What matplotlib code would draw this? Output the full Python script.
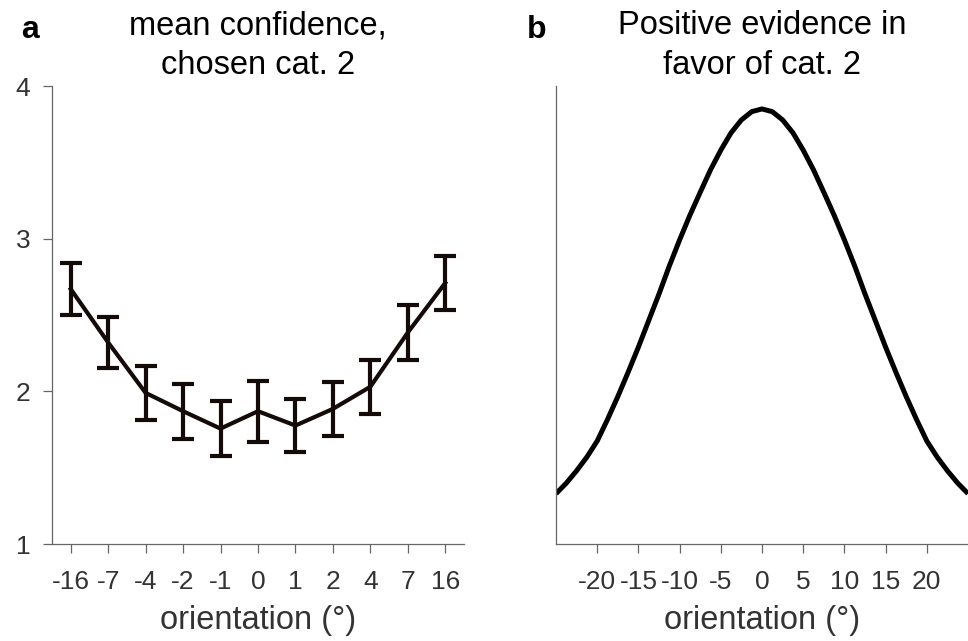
import numpy as np
import matplotlib
matplotlib.use("Agg")
import matplotlib.pyplot as plt

plt.rcParams['font.family'] = ['Liberation Sans', 'DejaVu Sans']

# Panel a: mean confidence when category 2 was chosen
orient_labels = ['-16', '-7', '-4', '-2', '-1', '0', '1', '2', '4', '7', '16']
conf_mean = [2.67, 2.32, 1.99, 1.87, 1.756, 1.87, 1.776, 1.885, 2.03, 2.385, 2.71]
conf_err = [0.17, 0.167, 0.175, 0.18, 0.18, 0.20, 0.172, 0.178, 0.177, 0.18, 0.177]

# Panel b: positive evidence curve
evid_x = [-25, -23.75, -22.5, -21.25, -20, -18.75, -17.5, -16.25, -15, -13.75,
          -12.5, -11.25, -10, -8.75, -7.5, -6.25, -5, -3.75, -2.5, -1.25, 0,
          1.25, 2.5, 3.75, 5, 6.25, 7.5, 8.75, 10, 11.25, 12.5, 13.75, 15,
          16.25, 17.5, 18.75, 20, 21.25, 22.5, 23.75, 25]
evid_y = [0.110, 0.133, 0.160, 0.190, 0.225, 0.272, 0.322, 0.375, 0.430, 0.488,
          0.546, 0.607, 0.664, 0.718, 0.768, 0.817, 0.860, 0.898, 0.926, 0.944, 0.950,
          0.944, 0.926, 0.898, 0.860, 0.817, 0.768, 0.718, 0.664, 0.607, 0.546,
          0.488, 0.430, 0.375, 0.322, 0.272, 0.225, 0.190, 0.160, 0.133, 0.110]
evid_ticks = [-20, -15, -10, -5, 0, 5, 10, 15, 20]
evid_labels = ['-20', '-15', '-10', '-5', '0', '5', '10', '15', '20']

spine_col = '#666666'
text_col = '#333333'
line_col = '#140a08'

fig = plt.figure(figsize=(9.68, 6.41), dpi=100, facecolor='white')
ax1 = fig.add_axes([0.0537, 0.1513, 0.4256, 0.7145])
ax2 = fig.add_axes([0.5744, 0.1513, 0.4256, 0.7145])

for ax in (ax1, ax2):
    ax.spines['top'].set_visible(False)
    ax.spines['right'].set_visible(False)
    for s in ('left', 'bottom'):
        ax.spines[s].set_color(spine_col)
        ax.spines[s].set_linewidth(0.9)
    ax.tick_params(direction='out', length=6.5, width=0.9, color=spine_col,
                   labelsize=19, labelcolor=text_col, pad=12)
    ax.tick_params(axis='y', pad=9)

# --- panel a
xi = np.arange(len(orient_labels))
ax1.errorbar(xi, conf_mean, yerr=conf_err, color=line_col, lw=3,
             elinewidth=3, capsize=8, capthick=3)
ax1.set_xlim(-0.5, 10.5)
ax1.set_ylim(1, 4)
ax1.set_yticks([1, 2, 3, 4])
ax1.set_xticks(xi)
ax1.set_xticklabels(orient_labels)
ax1.set_xlabel('orientation (°)', fontsize=23.5, color=text_col, labelpad=8)
ax1.set_title('mean confidence,\nchosen cat. 2', fontsize=23.5, pad=9,
              linespacing=1.35)
ax1.text(-0.075, 1.122, 'a', transform=ax1.transAxes, fontsize=23,
         fontweight='bold', va='center', ha='left')

# --- panel b
ax2.plot(evid_x, evid_y, color='black', lw=3.6, solid_capstyle='butt')
ax2.set_xlim(-25, 25)
ax2.set_ylim(0, 1)
ax2.set_yticks([])
ax2.set_xticks(evid_ticks)
ax2.set_xticklabels(evid_labels)
ax2.set_xlabel('orientation (°)', fontsize=23.5, color=text_col, labelpad=8)
ax2.set_title('Positive evidence in\nfavor of cat. 2', fontsize=23.5, pad=9,
              linespacing=1.35)
ax2.text(-0.07, 1.122, 'b', transform=ax2.transAxes, fontsize=23,
         fontweight='bold', va='center', ha='left')

plt.savefig('out.png', dpi=100)
